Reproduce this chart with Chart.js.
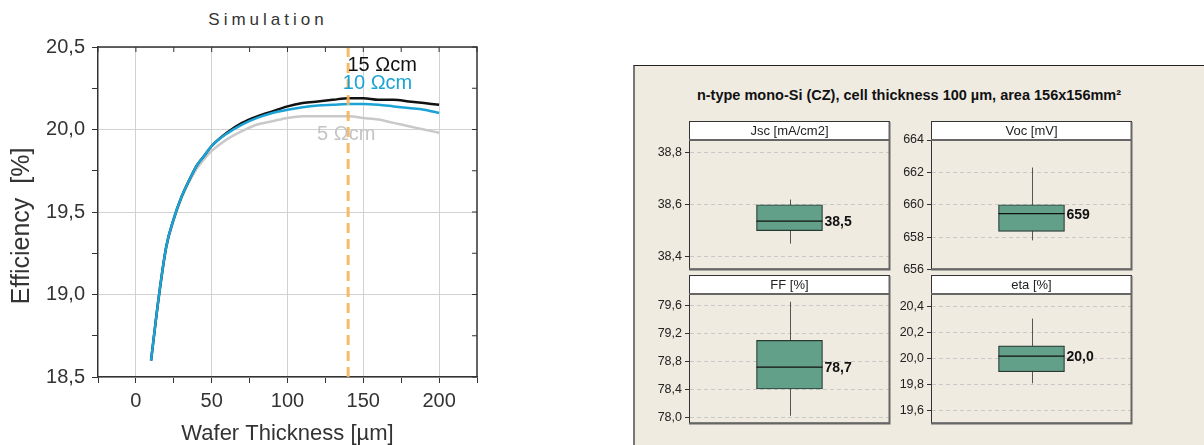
<!DOCTYPE html>
<html>
<head>
<meta charset="utf-8">
<script src="https://cdn.jsdelivr.net/npm/chart.js@4.4.0/dist/chart.umd.min.js"></script>
<style>
body{margin:0;width:1204px;height:445px;background:#fff;position:relative;overflow:hidden;font-family:"Liberation Sans",Arial,sans-serif}
canvas{position:absolute}
#simTitle{position:absolute;left:168px;width:200px;top:10px;text-align:center;font-size:17px;letter-spacing:4px;color:#333}
#panel{position:absolute;left:633px;top:65px;width:600px;height:400px;background:#efebe1;border-left:2px solid #777;border-top:1px solid #222}
#boxTitle{position:absolute;left:609px;width:600px;top:87px;text-align:center;font-size:14.5px;font-weight:bold;color:#111}
</style>
</head>
<body>
<div id="simTitle">Simulation</div>
<canvas id="simChart" width="490" height="445" style="left:0;top:0"></canvas>
<div id="panel"></div>
<div id="boxTitle">n-type mono-Si (CZ), cell thickness 100 µm, area 156x156mm²</div>
<canvas id="jscChart" width="262" height="162" style="left:630px;top:118px"></canvas>
<canvas id="vocChart" width="262" height="162" style="left:872px;top:118px"></canvas>
<canvas id="ffChart" width="262" height="162" style="left:630px;top:272px"></canvas>
<canvas id="etaChart" width="262" height="162" style="left:872px;top:272px"></canvas>
<script>
// simulation curves, efficiency [%] vs wafer thickness [um]
var thickness = [10, 15, 20, 25, 30, 35, 40, 45, 50, 60, 70, 80, 90, 100, 110, 120, 130, 140, 150, 160, 170, 180, 190, 200];
var eff15 = [18.60, 18.98, 19.29, 19.46, 19.59, 19.69, 19.78, 19.84, 19.90, 19.98, 20.04, 20.08, 20.11, 20.14, 20.16, 20.17, 20.18, 20.19, 20.19, 20.18, 20.18, 20.17, 20.16, 20.15];
var eff10 = [18.60, 18.98, 19.29, 19.46, 19.59, 19.69, 19.78, 19.84, 19.90, 19.975, 20.03, 20.07, 20.10, 20.12, 20.135, 20.145, 20.15, 20.155, 20.155, 20.15, 20.14, 20.13, 20.12, 20.10];
var eff5 = [18.60, 18.97, 19.28, 19.45, 19.58, 19.68, 19.76, 19.82, 19.87, 19.94, 19.99, 20.03, 20.05, 20.07, 20.08, 20.08, 20.08, 20.08, 20.07, 20.06, 20.04, 20.02, 20.00, 19.98];
var markerThickness = 140;
var simXTicks = [0, 50, 100, 150, 200];
var simYTicks = [18.5, 19.0, 19.5, 20.0, 20.5];
var curveLabels = [
  {text: '15 \u03a9cm', x: 139.5, y: 20.39, color: '#111'},
  {text: '10 \u03a9cm', x: 136.5, y: 20.28, color: '#1ba3d6'},
  {text: '5 \u03a9cm', x: 119.5, y: 19.97, color: '#c4c4c4'}
];

// box plot stats: min, q1, median, q3, max
var jscStats = [38.45, 38.50, 38.537, 38.60, 38.62];
var vocStats = [657.8, 658.35, 659.45, 660.0, 662.3];
var ffStats = [78.03, 78.41, 78.72, 79.10, 79.65];
var etaStats = [19.81, 19.90, 20.02, 20.10, 20.31];
var jscTicks = [38.4, 38.6, 38.8];
var vocTicks = [656, 658, 660, 662, 664];
var ffTicks = [78.0, 78.4, 78.8, 79.2, 79.6];
var etaTicks = [19.6, 19.8, 20.0, 20.2, 20.4];

function comma(v, d) {
  return v.toFixed(d).replace('.', ',');
}

function pts(ys) {
  return thickness.map(function (t, i) {
    return {x: t, y: ys[i]};
  });
}

var simFrame = {
  id: 'simFrame',
  afterDraw: function (chart) {
    var ctx = chart.ctx, a = chart.chartArea;
    var xs = chart.scales.x, ys = chart.scales.y;
    ctx.save();
    ctx.strokeStyle = '#333';
    ctx.lineWidth = 1.5;
    ctx.beginPath();
    ctx.moveTo(a.left, a.top);
    ctx.lineTo(a.right, a.top);
    ctx.lineTo(a.right, a.bottom);
    ctx.stroke();
    ctx.lineWidth = 1;
    ctx.beginPath();
    xs.ticks.forEach(function (t) {
      var px = xs.getPixelForValue(t.value);
      ctx.moveTo(px, a.top);
      ctx.lineTo(px, a.top + 5);
    });
    ys.ticks.forEach(function (t) {
      var py = ys.getPixelForValue(t.value);
      ctx.moveTo(a.right, py);
      ctx.lineTo(a.right - 5, py);
    });
    ctx.stroke();
    ctx.font = '20px "Liberation Sans", Arial, sans-serif';
    ctx.textBaseline = 'middle';
    curveLabels.forEach(function (l) {
      ctx.fillStyle = l.color;
      ctx.fillText(l.text, xs.getPixelForValue(l.x), ys.getPixelForValue(l.y));
    });
    ctx.restore();
  }
};

var simCtx = document.getElementById('simChart').getContext('2d');
var simChart = new Chart(simCtx, {
  type: 'line',
  data: {
    datasets: [{
      label: 'marker',
      data: [{x: markerThickness, y: simYTicks[0]}, {x: markerThickness, y: simYTicks[simYTicks.length - 1]}],
      borderColor: 'rgba(247,178,85,0.9)',
      borderWidth: 3,
      borderDash: [10, 6],
      pointRadius: 0
    }, {
      label: '10 Ωcm',
      data: pts(eff10),
      borderColor: '#1ba3d6',
      borderWidth: 2.5,
      pointRadius: 0,
      cubicInterpolationMode: 'monotone'
    }, {
      label: '15 Ωcm',
      data: pts(eff15),
      borderColor: '#111',
      borderWidth: 2.5,
      pointRadius: 0,
      cubicInterpolationMode: 'monotone'
    }, {
      label: '5 Ωcm',
      data: pts(eff5),
      borderColor: '#c9c9c9',
      borderWidth: 2.5,
      pointRadius: 0,
      cubicInterpolationMode: 'monotone'
    }]
  },
  options: {
    responsive: false,
    animation: false,
    layout: {padding: {top: 47, right: 13, left: 0, bottom: 0}},
    plugins: {legend: {display: false}, tooltip: {enabled: false}},
    scales: {
      x: {
        type: 'linear',
        min: -25,
        max: 225,
        afterBuildTicks: function (s) {
          var t = [];
          for (var v = s.min; v <= s.max; v += 25) t.push({value: v});
          s.ticks = t;
        },
        afterFit: function (s) { s.height = 68; },
        ticks: {
          autoSkip: false,
          maxRotation: 0,
          padding: 6,
          color: '#333',
          font: {family: '"Liberation Sans", Arial, sans-serif', size: 20},
          callback: function (v) { return simXTicks.indexOf(v) >= 0 ? String(v) : ''; }
        },
        grid: {
          color: function (c) { return simXTicks.indexOf(c.tick && c.tick.value) >= 0 ? '#d2d2d2' : 'rgba(0,0,0,0)'; },
          tickColor: '#333',
          tickLength: 6
        },
        border: {display: true, color: '#333', width: 1.5},
        title: {
          display: true,
          text: 'Wafer Thickness [µm]',
          color: '#333',
          font: {family: '"Liberation Sans", Arial, sans-serif', size: 22, lineHeight: 1},
          padding: {top: 0, bottom: 0}
        }
      },
      y: {
        min: 18.5,
        max: 20.5,
        afterBuildTicks: function (s) {
          var t = [];
          for (var v = s.min; v <= s.max + 1e-9; v += 0.25) t.push({value: Math.round(v * 100) / 100});
          s.ticks = t;
        },
        afterFit: function (s) { s.width = 98; },
        ticks: {
          autoSkip: false,
          padding: 7,
          color: '#333',
          font: {family: '"Liberation Sans", Arial, sans-serif', size: 20},
          callback: function (v) { return simYTicks.indexOf(v) >= 0 ? comma(v, 1) : ''; }
        },
        grid: {
          color: function (c) { return simYTicks.indexOf(c.tick && c.tick.value) >= 0 ? '#d2d2d2' : 'rgba(0,0,0,0)'; },
          tickColor: '#333',
          tickLength: 6
        },
        border: {display: true, color: '#333', width: 1.5},
        title: {
          display: true,
          text: 'Efficiency  [%]    ',
          color: '#333',
          font: {family: '"Liberation Sans", Arial, sans-serif', size: 25, lineHeight: 1},
          padding: {top: 10, bottom: 0}
        }
      }
    }
  },
  plugins: [simFrame]
});

var boxParts = {
  id: 'boxParts',
  beforeDatasetsDraw: function (chart) {
    var ctx = chart.ctx, ys = chart.scales.y;
    var st = chart.options.plugins.boxParts.stats;
    var bar = chart.getDatasetMeta(0).data[0];
    ctx.save();
    ctx.strokeStyle = '#555';
    ctx.lineWidth = 1;
    ctx.beginPath();
    ctx.moveTo(Math.round(bar.x) + 0.5, ys.getPixelForValue(st[0]));
    ctx.lineTo(Math.round(bar.x) + 0.5, ys.getPixelForValue(st[4]));
    ctx.stroke();
    ctx.restore();
  },
  afterDatasetsDraw: function (chart) {
    var ctx = chart.ctx, ys = chart.scales.y;
    var o = chart.options.plugins.boxParts;
    var st = o.stats;
    var bar = chart.getDatasetMeta(0).data[0];
    var half = bar.width / 2;
    var my = ys.getPixelForValue(st[2]);
    ctx.save();
    ctx.strokeStyle = '#111';
    ctx.lineWidth = 1.3;
    ctx.beginPath();
    ctx.moveTo(bar.x - half, my);
    ctx.lineTo(bar.x + half, my);
    ctx.stroke();
    ctx.fillStyle = '#111';
    ctx.font = 'bold 14px "Liberation Sans", Arial, sans-serif';
    ctx.textBaseline = 'middle';
    ctx.fillText(comma(st[2], o.decimals), bar.x + half + 2, my + 1);
    ctx.restore();
  },
  afterDraw: function (chart) {
    var ctx = chart.ctx, a = chart.chartArea;
    var o = chart.options.plugins.boxParts;
    ctx.save();
    ctx.fillStyle = '#fff';
    ctx.fillRect(a.left, a.top - 19, a.right - a.left, 19);
    ctx.strokeStyle = '#333';
    ctx.lineWidth = 1;
    ctx.strokeRect(a.left + 0.5, a.top - 18.5, a.right - a.left - 1, 18);
    ctx.strokeRect(a.left + 0.5, a.top + 0.5, a.right - a.left - 1, a.bottom - a.top - 1);
    ctx.strokeStyle = '#666';
    ctx.lineWidth = 2;
    ctx.beginPath();
    ctx.moveTo(a.left, a.top);
    ctx.lineTo(a.right, a.top);
    ctx.moveTo(a.right - 0.5, a.top - 18);
    ctx.lineTo(a.right - 0.5, a.bottom);
    ctx.lineTo(a.left, a.bottom);
    ctx.stroke();
    ctx.fillStyle = '#222';
    ctx.font = '13px "Liberation Sans", Arial, sans-serif';
    ctx.textAlign = 'center';
    ctx.textBaseline = 'middle';
    ctx.fillText(o.header, (a.left + a.right) / 2, a.top - 9);
    ctx.restore();
  }
};

function makeBox(id, header, stats, tickVals, yMin, yMax, decimals, tickDec) {
  var ctx = document.getElementById(id).getContext('2d');
  return new Chart(ctx, {
    type: 'bar',
    data: {
      labels: [header],
      datasets: [{
        data: [[stats[1], stats[3]]],
        backgroundColor: '#63a08a',
        borderColor: '#263a32',
        borderWidth: 1.2,
        borderSkipped: false,
        barThickness: 66
      }]
    },
    options: {
      responsive: false,
      animation: false,
      layout: {padding: {top: 22, right: 2, left: 0, bottom: 3}},
      plugins: {
        legend: {display: false},
        tooltip: {enabled: false},
        boxParts: {stats: stats, header: header, decimals: decimals}
      },
      scales: {
        x: {display: false},
        y: {
          min: yMin,
          max: yMax,
          afterBuildTicks: function (s) {
            s.ticks = tickVals.map(function (v) { return {value: v}; });
          },
          afterFit: function (s) { s.width = 59; },
          ticks: {
            padding: 3,
            color: '#222',
            font: {family: '"Liberation Sans", Arial, sans-serif', size: 12.5},
            callback: function (v) { return comma(v, tickDec); }
          },
          grid: {color: '#c8c8c8', tickColor: '#333', tickLength: 4},
          border: {display: true, color: '#333', dash: [4, 3]}
        }
      }
    },
    plugins: [boxParts]
  });
}

var jscChart = makeBox('jscChart', 'Jsc [mA/cm2]', jscStats, jscTicks, 38.35, 38.85, 1, 1);
var vocChart = makeBox('vocChart', 'Voc [mV]', vocStats, vocTicks, 656, 664, 0, 0);
var ffChart = makeBox('ffChart', 'FF [%]', ffStats, ffTicks, 77.92, 79.76, 1, 1);
var etaChart = makeBox('etaChart', 'eta [%]', etaStats, etaTicks, 19.5, 20.5, 1, 1);
</script>
</body>
</html>
